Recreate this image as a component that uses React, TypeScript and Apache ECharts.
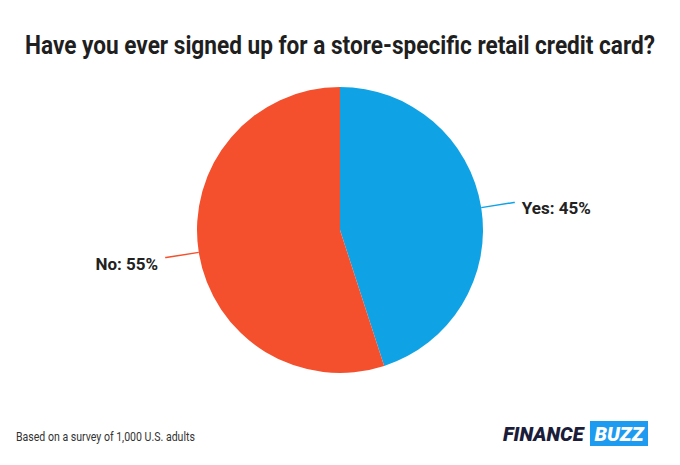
import React, { useEffect, useRef } from "react";
import * as echarts from "echarts";

const categories = ["Yes", "No"];
const values = [45, 55];
const colors = ["#0fa3e6", "#f4502d"];

export default function App() {
  const ref = useRef<HTMLDivElement>(null);
  useEffect(() => {
    if (!ref.current) return;
    const chart = echarts.init(ref.current, null, { renderer: "svg" });
    chart.setOption({
      animation: false,
      backgroundColor: "#ffffff",
      graphic: [
        {
          type: "text",
          x: 332,
          y: 37,
          scaleX: 0.87,
          style: {
            text: "Have you ever signed up for a store-specific retail credit card?",
            font: "bold 26px Roboto",
            fill: "#1f1f1f",
            align: "center",
            verticalAlign: "middle",
          },
        },
        {
          type: "text",
          x: 8,
          y: 429,
          scaleX: 0.88,
          style: {
            text: "Based on a survey of 1,000 U.S. adults",
            font: "12px Roboto",
            fill: "#333333",
            verticalAlign: "middle",
          },
        },
        {
          type: "text",
          x: 495,
          y: 426,
          style: {
            text: "FINANCE",
            font: "italic 900 20px Roboto",
            fill: "#1b1d3a",
            verticalAlign: "middle",
          },
        },
        {
          type: "rect",
          shape: { x: 582, y: 413, width: 58, height: 25 },
          style: { fill: "#1d9bf0" },
        },
        {
          type: "text",
          x: 611,
          y: 426,
          style: {
            text: "BUZZ",
            font: "italic 900 20px Roboto",
            fill: "#ffffff",
            align: "center",
            verticalAlign: "middle",
          },
        },
      ],
      series: [
        {
          type: "pie",
          center: [332, 222],
          radius: 143,
          startAngle: 90,
          clockwise: true,
          color: colors,
          data: categories.map((c, i) => ({ name: c, value: values[i] })),
          label: {
            formatter: "{t|{b}: {c}%}",
            distanceToLabelLine: 7,
            rich: {
              t: {
                fontFamily: "Roboto",
                fontWeight: "bold",
                fontSize: 17,
                color: "#222222",
                padding: [12, 0, 0, 0],
              },
            },
          },
          labelLine: {
            length: 33,
            length2: 1,
            lineStyle: { width: 1.5 },
          },
          itemStyle: { borderWidth: 0 },
          emphasis: { disabled: true },
        },
      ],
    });
    return () => chart.dispose();
  }, []);
  return <div ref={ref} style={{ width: 664, height: 449 }} />;
}
